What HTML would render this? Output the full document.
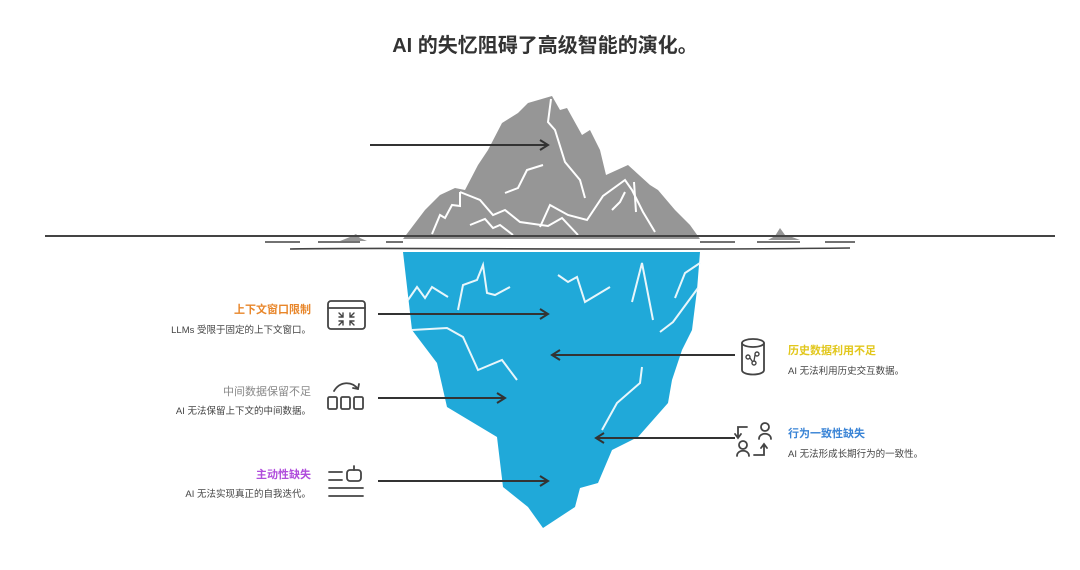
<!DOCTYPE html>
<html><head><meta charset="utf-8"><style>
html,body{margin:0;padding:0;background:#fff;}
svg{display:block;}
text{font-family:"Liberation Sans","Noto Sans CJK SC",sans-serif;}
</style></head><body>
<svg width="1080" height="570" viewBox="0 0 1080 570" xmlns="http://www.w3.org/2000/svg">
<defs>
<marker id="ah" markerWidth="12" markerHeight="12" refX="10" refY="6" orient="auto" markerUnits="userSpaceOnUse">
<path d="M2,1 L10,6 L2,11" fill="none" stroke="#333" stroke-width="2"/>
</marker>
</defs>
<text x="545" y="52" text-anchor="middle" font-size="20" font-weight="bold" fill="#333">AI 的失忆阻碍了高级智能的演化。</text>

<!-- top iceberg -->
<polygon fill="#969696" points="403,239 425,210 440,195 455,188 465,190 478,165 488,150 502,123 518,113 528,103 552,96 560,110 567,108 582,135 590,130 600,150 606,175 628,165 650,185 658,190 675,210 690,225 700,239"/>
<g fill="none" stroke="#fff" stroke-width="2">
<polyline points="551,99 548,122 555,130 565,162 580,180 585,198"/>
<polyline points="505,193 518,188 527,170 543,165"/>
<polyline points="432,234 440,215 445,218 452,205 460,206 460,192"/>
<polyline points="460,192 480,200 493,215 505,210 520,222 548,226 562,218 578,235"/>
<polyline points="470,225 485,219 493,228 500,225 513,235"/>
<polyline points="540,227 550,205 568,215 587,220 603,196 625,180 632,190 643,212 655,232"/>
<polyline points="612,210 620,202 625,192"/>
<polyline points="634,182 636,212"/>
</g>
<!-- small rocks -->
<polygon fill="#969696" points="340,241 350,237 356,234 360,238 367,241"/>
<polygon fill="#969696" points="768,240 775,236 780,228 785,235 792,237 800,240"/>

<!-- water lines -->
<line x1="45" y1="236" x2="1055" y2="236" stroke="#444" stroke-width="2"/>
<path d="M265,242 H300 M318,242 H360 M386,242 H403 M700,242 H735 M757,242 H800 M825,242 H855" stroke="#444" stroke-width="1.6"/>
<path d="M290,249 C400,247 600,251 850,248" stroke="#444" stroke-width="1.6" fill="none"/>

<!-- underwater -->
<polygon fill="#20a9d9" points="403,252 700,252 697,290 692,330 682,350 672,380 668,403 638,437 612,450 598,483 580,488 575,507 543,528 528,507 503,487 497,437 447,407 437,363 412,330"/>
<g fill="none" stroke="#e8f6fb" stroke-width="2">
<polyline points="408,300 417,287 425,298 432,287 448,297"/>
<polyline points="458,310 463,285 477,280 483,265 487,293 495,295 510,287"/>
<polyline points="558,275 568,282 577,277 585,302 610,287"/>
<polyline points="632,302 642,263 653,320"/>
<polyline points="675,298 685,273 700,263"/>
<polyline points="660,332 673,322 698,288"/>
<polyline points="412,330 447,328 463,337 478,370 502,360 517,380"/>
<polyline points="602,430 617,403 640,383 642,367"/>
</g>

<!-- arrows -->
<g stroke="#333" stroke-width="2" fill="none" marker-end="url(#ah)">
<line x1="370" y1="145" x2="548" y2="145"/>
<line x1="378" y1="314" x2="548" y2="314"/>
<line x1="378" y1="398" x2="505" y2="398"/>
<line x1="378" y1="481" x2="548" y2="481"/>
<line x1="735" y1="355" x2="552" y2="355"/>
<line x1="735" y1="438" x2="596" y2="438"/>
</g>

<!-- left labels -->
<text x="311" y="313" text-anchor="end" font-size="11" font-weight="bold" fill="#e8862a">上下文窗口限制</text>
<text x="311" y="333" text-anchor="end" font-size="9.5" fill="#444">LLMs 受限于固定的上下文窗口。</text>
<text x="311" y="395" text-anchor="end" font-size="11" fill="#888">中间数据保留不足</text>
<text x="311" y="414" text-anchor="end" font-size="9.5" fill="#444">AI 无法保留上下文的中间数据。</text>
<text x="311" y="478" text-anchor="end" font-size="11" font-weight="bold" fill="#b04ddc">主动性缺失</text>
<text x="311" y="497" text-anchor="end" font-size="9.5" fill="#444">AI 无法实现真正的自我迭代。</text>

<!-- right labels -->
<text x="788" y="354" font-size="11" font-weight="bold" fill="#e2c71c">历史数据利用不足</text>
<text x="788" y="374" font-size="9.5" fill="#444">AI 无法利用历史交互数据。</text>
<text x="788" y="437" font-size="11" font-weight="bold" fill="#3a84d6">行为一致性缺失</text>
<text x="788" y="457" font-size="9.5" fill="#444">AI 无法形成长期行为的一致性。</text>

<!-- icons -->
<g stroke="#444" stroke-width="1.8" fill="none" stroke-linecap="round">
<!-- window -->
<rect x="328" y="301" width="37" height="28" rx="3"/>
<line x1="328" y1="308" x2="365" y2="308"/>
<path d="M339,313 l4,4 M343,313 v4 h-4 M354,313 l-4,4 M350,313 v4 h4 M339,325 l4,-4 M343,325 v-4 h-4 M354,325 l-4,-4 M350,325 v-4 h4" stroke-width="1.4"/>
<!-- boxes -->
<rect x="328" y="397" width="9" height="12" rx="1.5"/>
<rect x="341" y="397" width="9" height="12" rx="1.5"/>
<rect x="354" y="397" width="9" height="12" rx="1.5"/>
<path d="M334,391 C340,381 352,381 358,389"/>
<path d="M353,388 l5,1 1,-5"/>
<!-- robot lines -->
<line x1="329" y1="472" x2="342" y2="472"/>
<line x1="329" y1="480" x2="342" y2="480"/>
<line x1="329" y1="488" x2="363" y2="488"/>
<line x1="329" y1="496" x2="363" y2="496"/>
<rect x="347" y="470" width="14" height="11" rx="3"/>
<line x1="354" y1="466" x2="354" y2="470"/>
<!-- database -->
<ellipse cx="753" cy="343" rx="11" ry="4"/>
<path d="M742,343 V370 C742,376 764,376 764,370 V343"/>
<circle cx="748" cy="357" r="2" stroke-width="1.4"/><circle cx="757" cy="354" r="2" stroke-width="1.4"/><circle cx="754" cy="363" r="2" stroke-width="1.4"/>
<path d="M750,358 L752,361 M755,355 L754,361" stroke-width="1.3"/>
<!-- users -->
<path d="M747,427 H738 V437 M735,434 l3,4 3,-4"/>
<circle cx="765" cy="427" r="4"/><path d="M759,439 C759,432 771,432 771,439"/>
<circle cx="743" cy="445" r="4"/><path d="M737,456 C737,449 749,449 749,456"/>
<path d="M754,455 H764 V445 M761,448 l3,-4 3,4"/>
</g>
</svg>
</body></html>
